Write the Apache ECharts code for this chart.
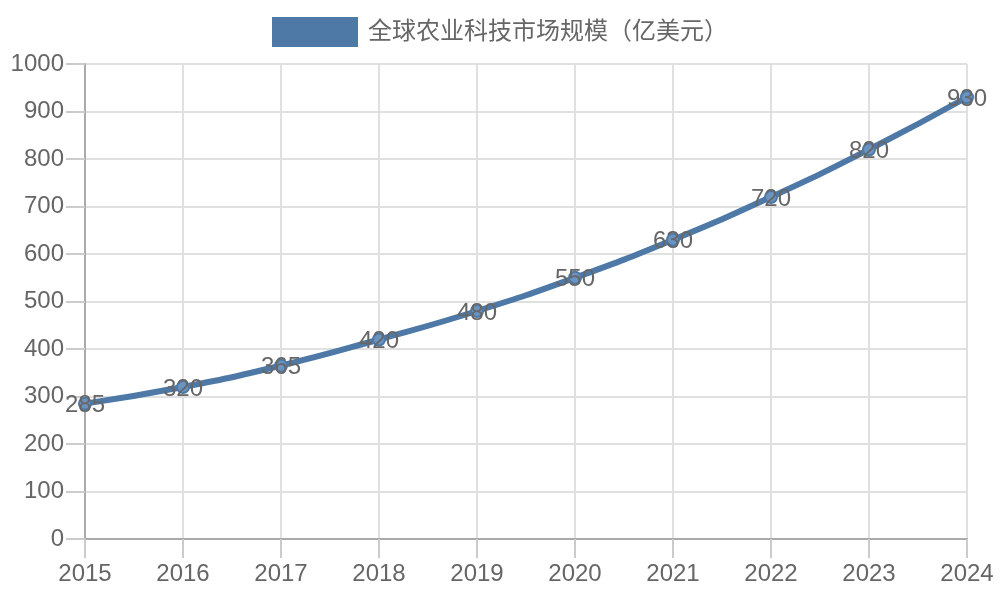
<!DOCTYPE html>
<html>
<head>
<meta charset="utf-8">
<script src="https://cdn.jsdelivr.net/npm/echarts@6/dist/echarts.min.js"></script>
<style>
  html, body { margin: 0; padding: 0; background: #fff; }
  #main { width: 1000px; height: 600px; }
</style>
</head>
<body>
<div id="main"></div>
<script>
// 数据
var years = ['2015', '2016', '2017', '2018', '2019', '2020', '2021', '2022', '2023', '2024'];
var marketSize = [285, 320, 365, 420, 480, 550, 630, 720, 820, 930];
var seriesName = '全球农业科技市场规模（亿美元）';

var font = '"Liberation Sans", Arial, "Noto Sans CJK SC", sans-serif';
var chart = echarts.init(document.getElementById('main'));

var option = {
  backgroundColor: '#ffffff',
  color: ['#4e79a7'],
  textStyle: { fontFamily: font },
  legend: {
    top: 12,
    left: 'center',
    itemWidth: 86,
    itemHeight: 30,
    icon: 'rect',
    itemStyle: { color: '#4e79a7', borderWidth: 0 },
    textStyle: { fontSize: 24, color: '#666', fontFamily: font, padding: [0, 0, 0, 5] },
    data: [seriesName]
  },
  grid: { left: 85, right: 33, top: 64, bottom: 61 },
  xAxis: {
    type: 'category',
    data: years,
    boundaryGap: false,
    axisLine: { lineStyle: { color: '#aaa', width: 2 } },
    axisTick: { show: true, length: 19, lineStyle: { color: '#ccc', width: 2 } },
    axisLabel: { fontSize: 24, color: '#666', margin: 23, fontFamily: font },
    splitLine: { show: true, lineStyle: { color: '#e0e0e0', width: 2 } }
  },
  yAxis: {
    type: 'value',
    min: 0,
    max: 1000,
    interval: 100,
    axisLine: { show: true, lineStyle: { color: '#aaa', width: 2 } },
    axisTick: { show: true, length: 19, lineStyle: { color: '#ccc', width: 2 } },
    axisLabel: {
      fontSize: 24, color: '#666', margin: 21, fontFamily: font,
      formatter: function (v) { return String(v); }
    },
    splitLine: { show: true, lineStyle: { color: '#e0e0e0', width: 2 } }
  },
  series: [{
    name: seriesName,
    type: 'line',
    smooth: true,
    data: marketSize,
    symbol: 'circle',
    symbolSize: 12,
    lineStyle: { width: 6, color: '#4e79a7' },
    itemStyle: { color: '#6a93c0', borderColor: '#4e79a7', borderWidth: 2 },
    label: {
      show: true,
      position: 'inside',
      offset: [0, 2],
      fontSize: 24,
      color: '#666',
      fontFamily: font
    }
  }]
};
chart.setOption(option);
</script>
</body>
</html>
